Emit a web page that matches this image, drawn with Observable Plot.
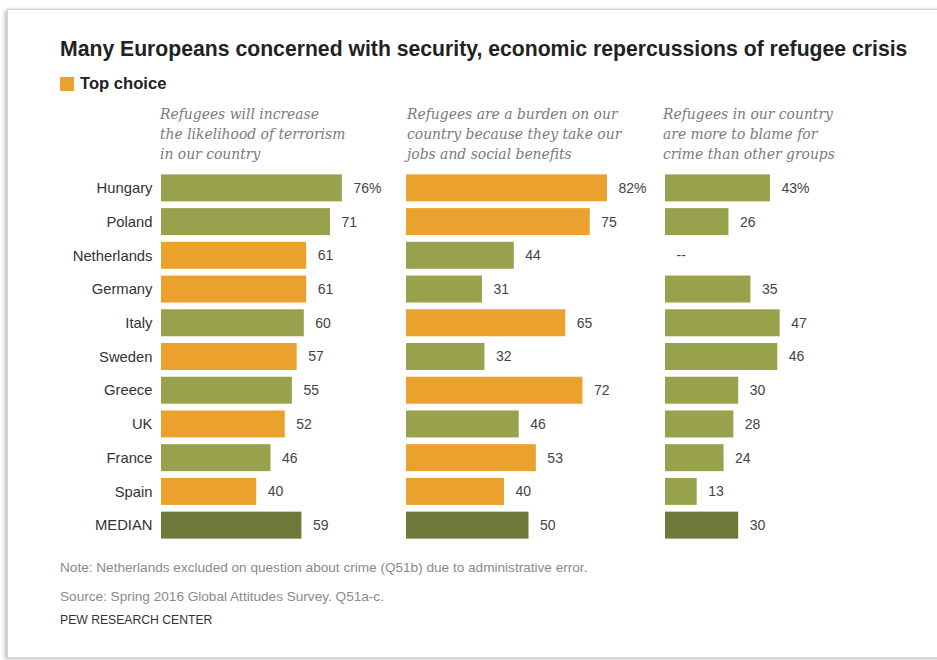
<!DOCTYPE html>
<html>
<head>
<meta charset="utf-8">
<script src="https://cdn.jsdelivr.net/npm/d3@7"></script>
<script src="https://cdn.jsdelivr.net/npm/@observablehq/plot@0.6"></script>
<style>
  html, body { margin: 0; padding: 0; background: #fff; }
  body { width: 937px; height: 660px; position: relative; overflow: hidden; font-family: "Liberation Sans", Arial, sans-serif; }
  .frame { position: absolute; left: 7px; top: 9px; width: 960px; height: 647px; border: 1px solid #d4d4d4; box-shadow: -2px 1px 4px rgba(0,0,0,0.28); background: #fff; }
  .abs { position: absolute; }
  #title { left: 60px; top: 37px; font-weight: bold; font-size: 21.2px; color: #222; white-space: nowrap; }
  #legend { left: 60px; top: 74px; font-weight: bold; font-size: 16.6px; color: #222; display: flex; align-items: center; }
  #legend .sw { width: 14px; height: 14px; background: #eaa12e; margin-right: 6px; }
  .head { top: 104px; font-family: "DejaVu Serif", Georgia, serif; font-style: italic; font-size: 13.9px; line-height: 20px; color: #7a7a7a; white-space: pre; }
  .foot { left: 60px; font-size: 13.6px; color: #8a8a8a; white-space: nowrap; }
  #pew { color: #333; font-size: 12.2px; }
  .plot { position: absolute; top: 160px; }
</style>
</head>
<body>
<div class="frame"></div>
<div id="title" class="abs"></div>
<div id="legend" class="abs"><div class="sw"></div><span id="legendText"></span></div>
<div id="h1" class="abs head" style="left:160px"></div>
<div id="h2" class="abs head" style="left:407px"></div>
<div id="h3" class="abs head" style="left:663px"></div>
<div id="p1" class="plot" style="left:0px"></div>
<div id="p2" class="plot" style="left:405px"></div>
<div id="p3" class="plot" style="left:660px"></div>
<div id="note" class="abs foot" style="top:560px"></div>
<div id="source" class="abs foot" style="top:589px"></div>
<div id="pew" class="abs foot" style="top:613px"></div>
<script>
// ---------- data ----------
const titleText = "Many Europeans concerned with security, economic repercussions of refugee crisis";
const legendLabel = "Top choice";
const countries = ["Hungary", "Poland", "Netherlands", "Germany", "Italy", "Sweden", "Greece", "UK", "France", "Spain", "MEDIAN"];
const terrorism = [76, 71, 61, 61, 60, 57, 55, 52, 46, 40, 59];
const jobs = [82, 75, 44, 31, 65, 32, 72, 46, 53, 40, 50];
const crime = [43, 26, null, 35, 47, 46, 30, 28, 24, 13, 30];
const terrorismTop = ["Netherlands", "Germany", "Sweden", "UK", "Spain"];
const jobsTop = ["Hungary", "Poland", "Italy", "Greece", "France", "Spain"];
const crimeTop = [];
const headers = [
  "Refugees will increase\nthe likelihood of terrorism\nin our country",
  "Refugees are a burden on our\ncountry because they take our\njobs and social benefits",
  "Refugees in our country\nare more to blame for\ncrime than other groups"
];
const noteText = "Note: Netherlands excluded on question about crime (Q51b) due to administrative error.";
const sourceText = "Source: Spring 2016 Global Attitudes Survey. Q51a-c.";
const creditText = "PEW RESEARCH CENTER";

// ---------- text ----------
document.getElementById("title").textContent = titleText;
document.getElementById("legendText").textContent = legendLabel;
["h1", "h2", "h3"].forEach((id, i) => document.getElementById(id).textContent = headers[i]);
document.getElementById("note").textContent = noteText;
document.getElementById("source").textContent = sourceText;
document.getElementById("pew").textContent = creditText;

// ---------- charts ----------
const categories = ["Top choice", "Other", "Median"];
const palette = ["#eaa12e", "#98a24d", "#6f7a3a"];

function rows(values, top) {
  return countries.map((c, i) => ({
    country: c,
    value: values[i],
    cat: c === "MEDIAN" ? "Median" : (top.includes(c) ? "Top choice" : "Other"),
    label: values[i] == null ? "--" : (i === 0 ? values[i] + "%" : String(values[i]))
  }));
}

function panel(values, top, opts) {
  const data = rows(values, top);
  const marks = [
    Plot.barX(data.filter(d => d.value != null), { x: "value", y: "country", fill: "cat" }),
    Plot.text(data, { x: d => d.value ?? 0, y: "country", text: "label", textAnchor: "start", fill: "#444", fontSize: 14, dx: 11 })
  ];
  if (opts.axis) marks.push(Plot.axisY({ tickSize: 0, tickPadding: 9, fontSize: 14.8, fill: "#333", label: null }));
  return Plot.plot({
    width: opts.width,
    height: 393,
    marginTop: 11,
    marginBottom: 10,
    marginLeft: opts.ml,
    marginRight: opts.width - opts.ml - opts.scale * 100,
    style: { fontFamily: "'Liberation Sans', Arial, sans-serif", fontSize: "14px", color: "#333", overflow: "visible", background: "transparent" },
    x: { domain: [0, 100], range: [opts.ml, opts.ml + opts.scale * 100], axis: null },
    y: { domain: countries, range: [11, 382], paddingInner: 0.2, paddingOuter: 0.1, round: false, axis: null },
    color: { domain: categories, range: palette },
    marks
  });
}

document.getElementById("p1").appendChild(panel(terrorism, terrorismTop, { width: 405, ml: 161, scale: 2.38, axis: true }));
document.getElementById("p2").appendChild(panel(jobs, jobsTop, { width: 255, ml: 1, scale: 2.45, axis: false }));
document.getElementById("p3").appendChild(panel(crime, crimeTop, { width: 277, ml: 5, scale: 2.44, axis: false }));
</script>
</body>
</html>
